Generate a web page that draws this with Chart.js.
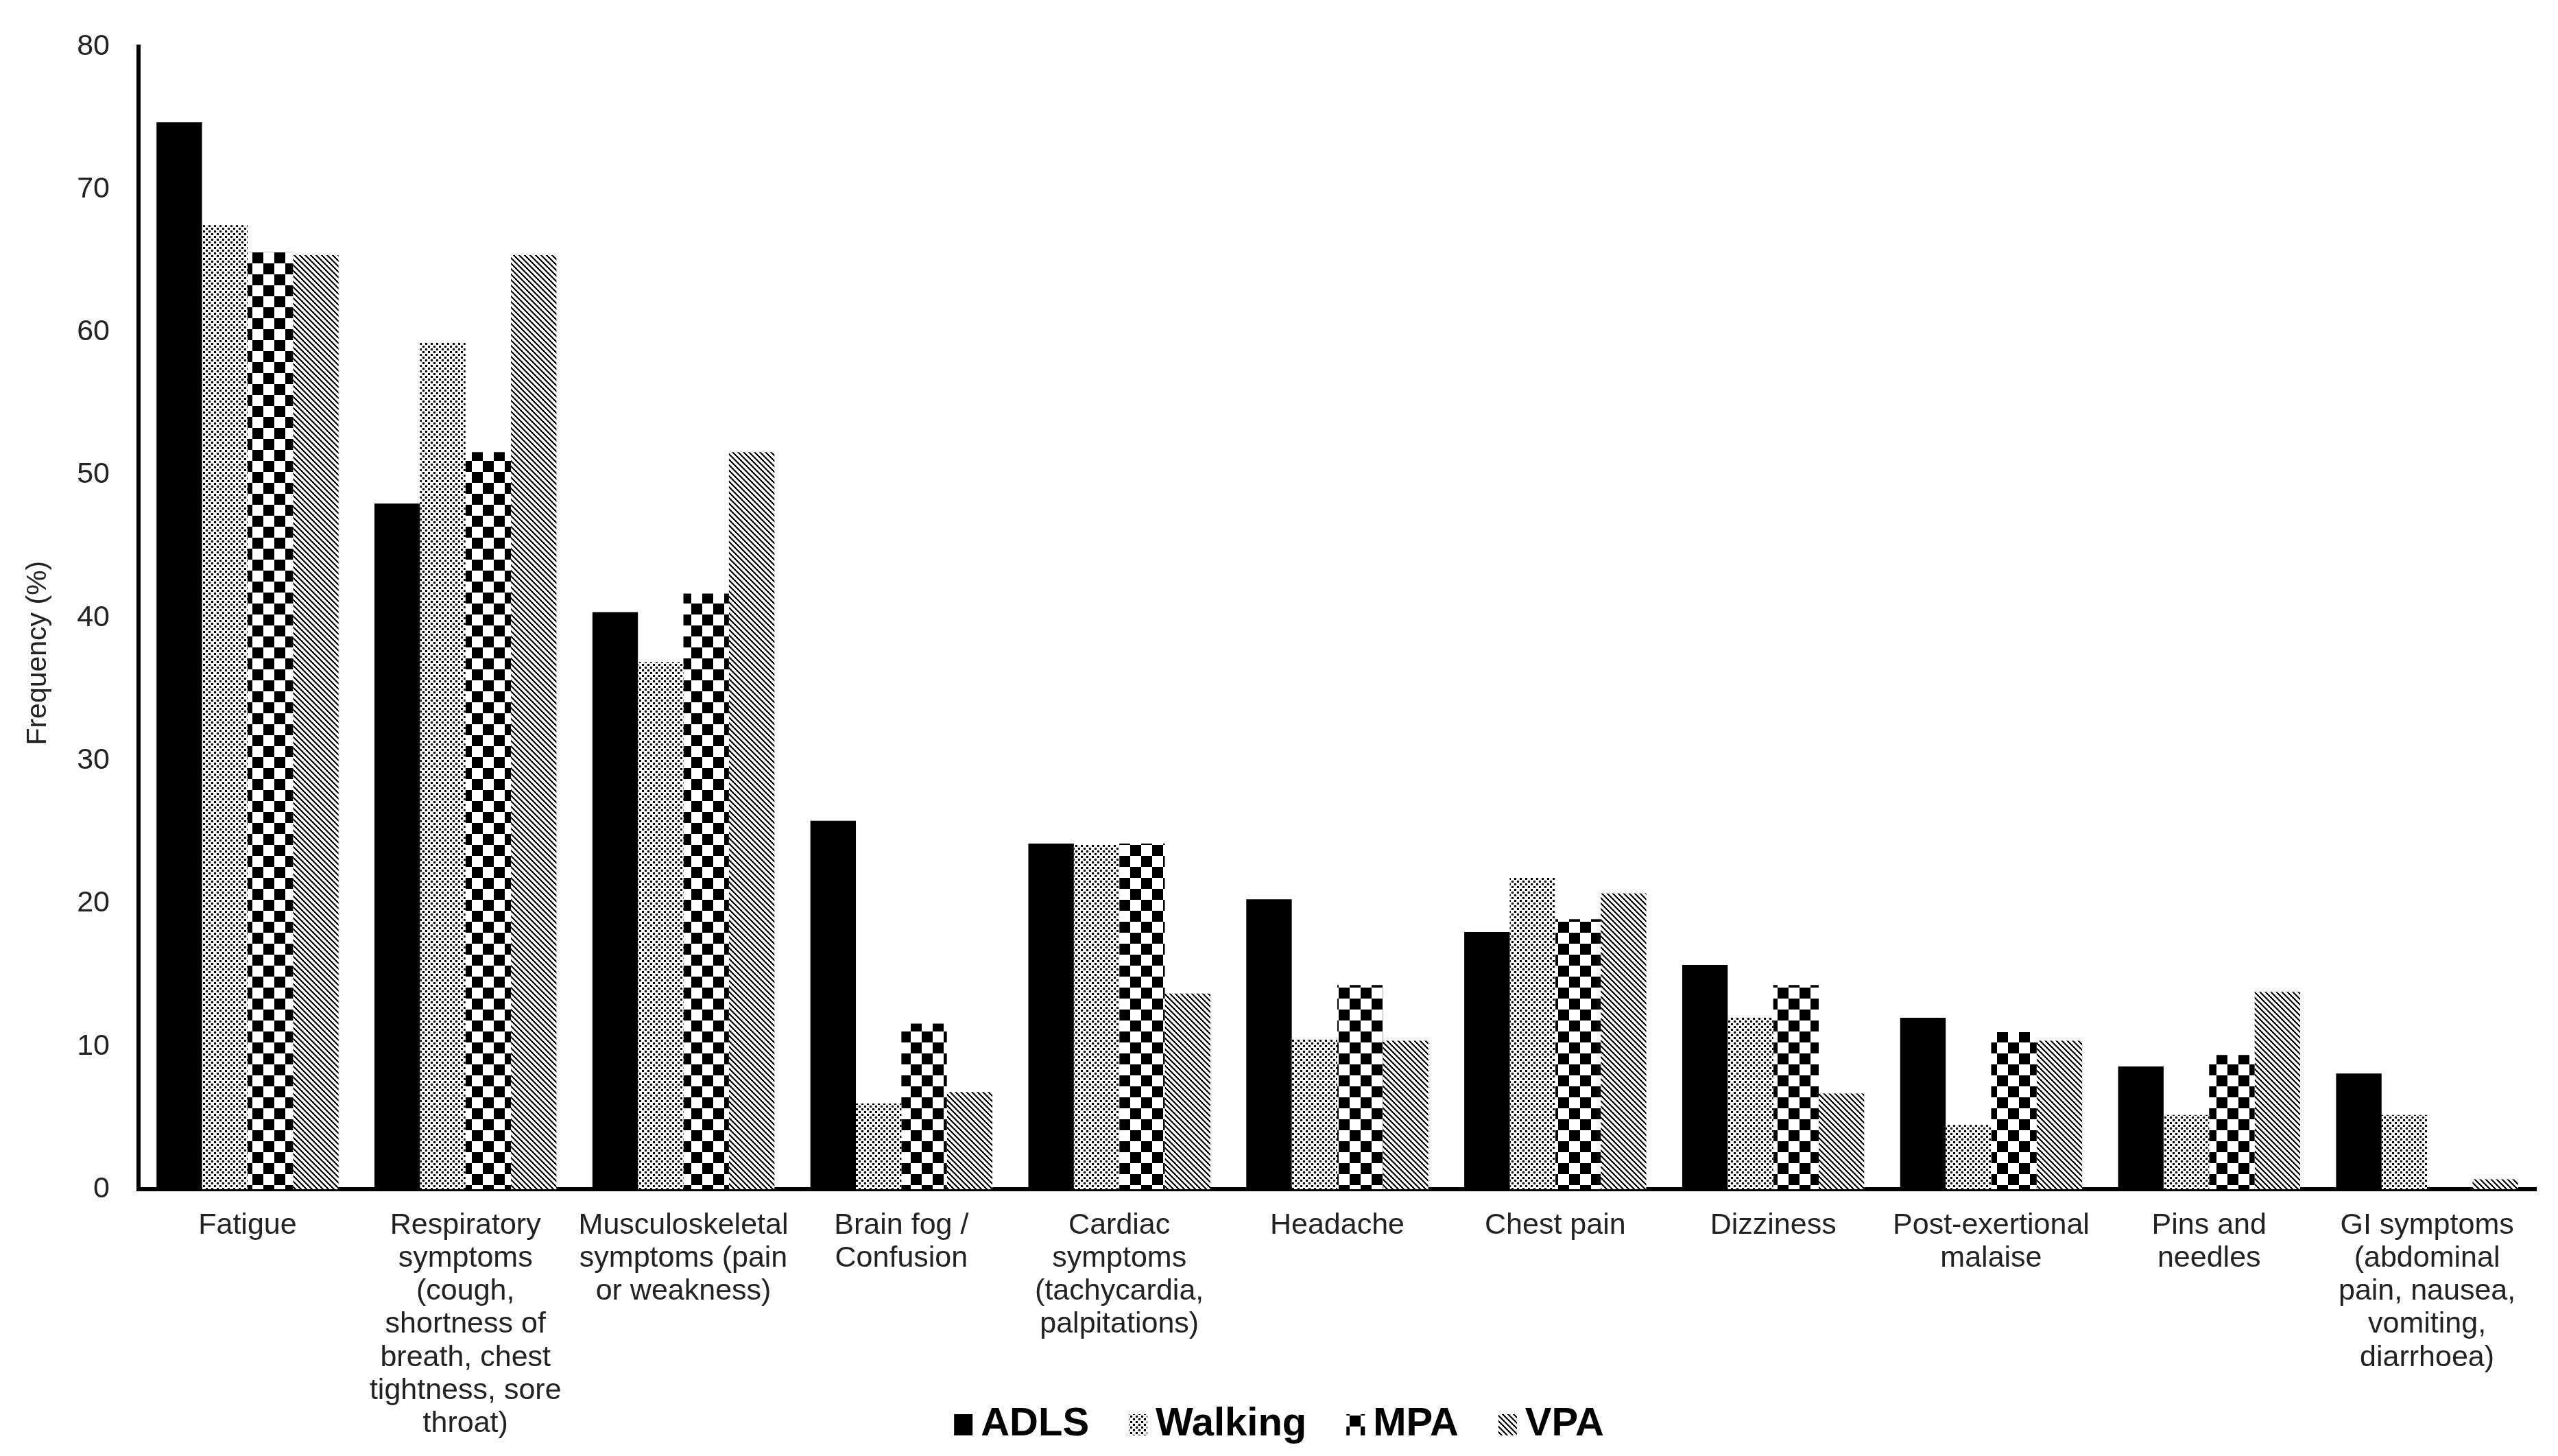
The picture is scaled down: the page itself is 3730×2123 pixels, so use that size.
<!DOCTYPE html>
<html>
<head>
<meta charset="utf-8">
<script src="https://cdn.jsdelivr.net/npm/chart.js@4.4.0/dist/chart.umd.min.js"></script>
<style>
html, body { margin: 0; padding: 0; background: #fff; }
canvas { display: block; }
</style>
</head>
<body>
<canvas id="myChart" width="3730" height="2123"></canvas>
<script>
// symptom categories (multi-line as in the figure)
var categories = [
	'Fatigue',
	['Respiratory', 'symptoms', '(cough,', 'shortness of', 'breath, chest', 'tightness, sore', 'throat)'],
	['Musculoskeletal', 'symptoms (pain', 'or weakness)'],
	['Brain fog /', 'Confusion'],
	['Cardiac', 'symptoms', '(tachycardia,', 'palpitations)'],
	'Headache',
	'Chest pain',
	'Dizziness',
	['Post-exertional', 'malaise'],
	['Pins and', 'needles'],
	['GI symptoms', '(abdominal', 'pain, nausea,', 'vomiting,', 'diarrhoea)']
];

var seriesNames = ['ADLS', 'Walking', 'MPA', 'VPA'];

var adls    = [74.7, 48.0, 40.4, 25.8, 24.2, 20.3, 18.0, 15.7, 12.0, 8.6, 8.1];
var walking = [67.5, 59.3, 36.9, 6.0, 24.1, 10.5, 21.8, 12.0, 4.5, 5.2, 5.2];
var mpa     = [65.6, 51.6, 41.7, 11.6, 24.2, 14.3, 18.9, 14.3, 11.0, 9.4, 0];
var vpa     = [65.4, 65.4, 51.6, 6.8, 13.7, 10.4, 20.7, 6.7, 10.4, 13.8, 0.7];

var yMin = 0, yMax = 80, yStep = 10;
var yTitle = 'Frequency (%)';

var FONT = '"Liberation Sans", Arial, sans-serif';

// black & white fill patterns
function makePattern(size, painter) {
	var c = document.createElement('canvas');
	c.width = size; c.height = size;
	var g = c.getContext('2d');
	g.fillStyle = '#fff';
	g.fillRect(0, 0, size, size);
	g.fillStyle = '#000';
	painter(g, size);
	return document.getElementById('myChart').getContext('2d').createPattern(c, 'repeat');
}

var dotsPattern = makePattern(8, function(g) {
	g.fillRect(0, 0, 3, 3);
	g.fillRect(4, 4, 3, 3);
});
var checkerPattern = makePattern(32, function(g) {
	g.fillRect(0, 0, 16, 16);
	g.fillRect(16, 16, 16, 16);
});
var diagPattern = makePattern(8, function(g, s) {
	for (var y = 0; y < s; y++) {
		for (var x = 0; x < s; x++) {
			if ((((x - y) % s) + s) % s < 3) g.fillRect(x, y, 1, 1);
		}
	}
});

var fills = ['#000000', dotsPattern, checkerPattern, diagPattern];
var seriesData = [adls, walking, mpa, vpa];

// legend drawn under the plot, centred on the page
var bottomLegend = {
	id: 'bottomLegend',
	afterDraw: function(chart) {
		var ctx = chart.ctx;
		var sets = chart.data.datasets;
		var box = 27, boxH = 31, gap = 12, itemGap = 58;
		ctx.save();
		ctx.font = 'bold 58px ' + FONT;
		var widths = sets.map(function(d) { return ctx.measureText(d.label).width; });
		var total = itemGap * (sets.length - 1);
		widths.forEach(function(w) { total += w + box + gap; });
		var x = chart.width / 2 - total / 2;
		var baseY = chart.height - 30;
		ctx.textBaseline = 'alphabetic';
		ctx.textAlign = 'left';
		for (var i = 0; i < sets.length; i++) {
			ctx.fillStyle = sets[i].backgroundColor;
			ctx.fillRect(x, baseY - boxH, box, boxH);
			ctx.fillStyle = '#000';
			ctx.fillText(sets[i].label, x + box + gap, baseY);
			x += box + gap + widths[i] + itemGap;
		}
		ctx.restore();
	}
};

window.onload = function() {
	var ctx = document.getElementById('myChart').getContext('2d');
	var datasets = [];
	for (var i = 0; i < seriesNames.length; i++) {
		datasets.push({
			label: seriesNames[i],
			data: seriesData[i],
			backgroundColor: fills[i],
			borderWidth: 0,
			categoryPercentage: 0.835,
			barPercentage: 1.0
		});
	}

	new Chart(ctx, {
		type: 'bar',
		data: { labels: categories, datasets: datasets },
		options: {
			responsive: false,
			devicePixelRatio: 1,
			animation: false,
			layout: { padding: { top: 64, right: 32, bottom: 0, left: 0 } },
			plugins: {
				legend: { display: false },
				tooltip: { enabled: false }
			},
			scales: {
				x: {
					grid: { display: false, drawTicks: false },
					border: { display: true, color: '#000', width: 6 },
					ticks: {
						color: '#222',
						font: { family: FONT, size: 43, lineHeight: 1.12 },
						padding: 29,
						maxRotation: 0,
						autoSkip: false
					},
					afterFit: function(scale) { scale.height = 389; }
				},
				y: {
					min: yMin,
					max: yMax,
					grid: { display: false, drawTicks: false },
					border: { display: true, color: '#000', width: 6 },
					ticks: {
						stepSize: yStep,
						color: '#222',
						font: { family: FONT, size: 43 },
						padding: 42
					},
					title: {
						display: true,
						text: yTitle + '         ',
						color: '#222',
						font: { family: FONT, size: 41 },
						padding: { top: 31, bottom: 0 }
					},
					afterFit: function(scale) { scale.width = 202; }
				}
			}
		},
		plugins: [bottomLegend]
	});
};
</script>
</body>
</html>
